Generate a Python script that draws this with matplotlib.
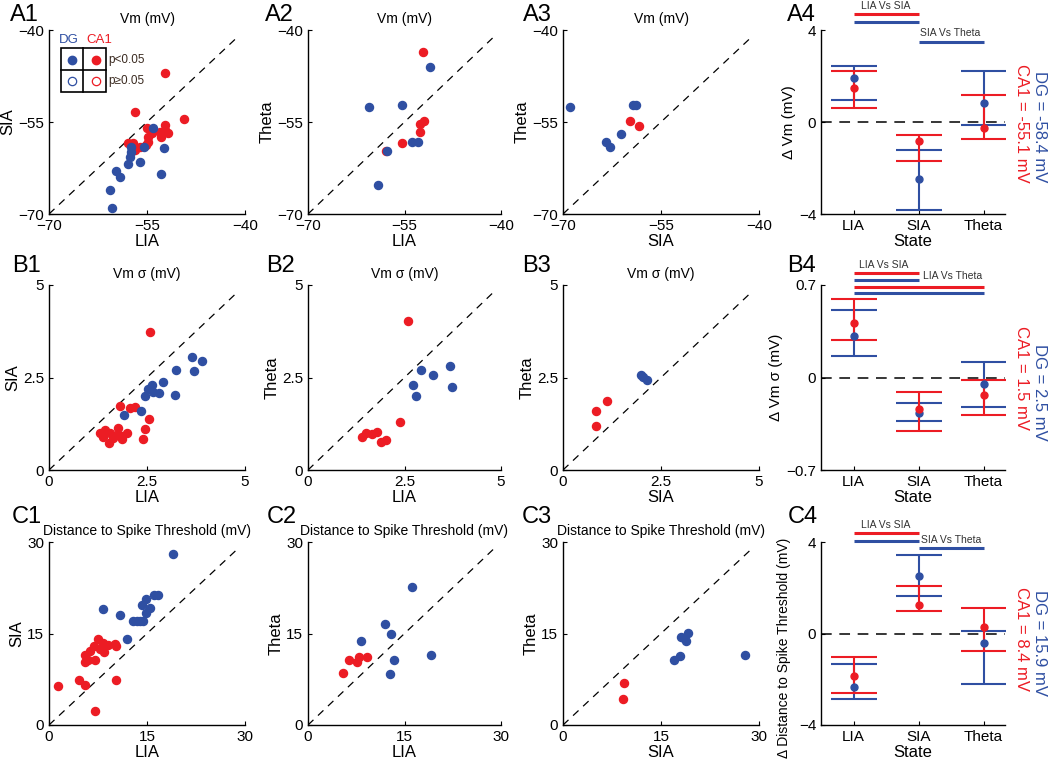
import matplotlib
matplotlib.use("Agg")
import matplotlib.pyplot as plt
from matplotlib.patches import Rectangle
from matplotlib.lines import Line2D

plt.rcParams['font.family'] = ['Liberation Sans', 'DejaVu Sans']

BLUE = '#2f4fa2'
RED = '#ec1c24'

# ---------------- data: Vm (mV) ----------------
a1_ca1_x = [-52.2, -56.8, -49.3, -55.0, -52.3, -52.2, -51.8, -52.8, -54.9, -54.3, -54.8, -55.1, -56.1, -56.9, -57.9, -57.2, -53.0]
a1_ca1_y = [-47.0, -53.4, -54.5, -55.9, -55.5, -56.3, -56.8, -57.4, -57.4, -56.8, -58.2, -58.8, -59.0, -59.6, -58.5, -58.4, -56.6]
a1_dg_x = [-54.1, -55.5, -52.4, -56.0, -57.4, -57.6, -57.9, -59.7, -59.2, -52.9, -60.6, -60.4, -57.5]
a1_dg_y = [-55.9, -59.1, -59.3, -61.6, -59.0, -60.7, -61.9, -63.0, -64.0, -63.5, -66.1, -69.1, -59.9]

a2_ca1_x = [-52.1, -52.6, -52.0, -52.6, -55.4, -57.8]
a2_ca1_y = [-43.6, -55.4, -54.8, -56.7, -58.5, -59.7]
a2_dg_x = [-51.0, -60.5, -55.4, -53.8, -52.9, -57.7, -59.1]
a2_dg_y = [-46.1, -52.6, -52.3, -58.3, -58.3, -59.7, -65.3]

a3_ca1_x = [-59.7, -58.4]
a3_ca1_y = [-54.8, -55.7]
a3_dg_x = [-69.0, -59.3, -58.9, -61.1, -63.4, -62.8]
a3_dg_y = [-52.6, -52.3, -52.3, -57.0, -58.2, -59.0]

# ---------------- data: Vm sigma (mV) ----------------
b1_ca1_x = [2.57, 1.81, 2.06, 2.19, 2.56, 2.46, 2.39, 1.42, 1.55, 1.76, 1.38, 1.64, 1.85, 1.98, 1.53, 1.87, 1.29, 1.74]
b1_ca1_y = [3.72, 1.73, 1.68, 1.71, 1.37, 1.12, 0.83, 1.08, 1.01, 1.13, 0.90, 0.86, 0.92, 0.99, 0.74, 0.83, 0.99, 0.95]
b1_dg_x = [3.64, 3.90, 3.71, 3.24, 3.21, 2.91, 2.63, 2.53, 2.44, 2.66, 2.80, 1.91, 2.35]
b1_dg_y = [3.05, 2.94, 2.68, 2.70, 2.02, 2.39, 2.30, 2.18, 2.00, 2.12, 2.09, 1.50, 1.60]

b2_ca1_x = [2.59, 2.38, 1.41, 1.49, 1.65, 1.80, 1.89, 2.01]
b2_ca1_y = [4.04, 1.31, 0.90, 0.99, 0.97, 1.03, 0.75, 0.81]
b2_dg_x = [2.71, 2.94, 3.25, 3.68, 3.74, 2.81]
b2_dg_y = [2.30, 2.69, 2.57, 2.81, 2.25, 2.01]

b3_ca1_x = [0.83, 0.83, 1.12]
b3_ca1_y = [1.60, 1.19, 1.86]
b3_dg_x = [2.00, 2.05, 2.14]
b3_dg_y = [2.56, 2.52, 2.43]

# ---------------- data: distance to spike threshold (mV) ----------------
c1_ca1_x = [1.4, 4.6, 5.5, 7.1, 10.3, 10.3, 10.1, 7.5, 8.3, 9.0, 6.9, 6.3, 5.5, 5.5, 6.0, 7.0, 7.8, 8.4]
c1_ca1_y = [6.4, 7.4, 6.5, 2.35, 7.3, 13.0, 13.3, 14.1, 13.5, 13.1, 13.0, 12.2, 11.5, 10.4, 10.7, 10.7, 12.4, 11.9]
c1_dg_x = [19.0, 8.3, 10.9, 11.9, 12.8, 13.4, 13.9, 14.2, 14.9, 15.4, 14.8, 16.0, 16.7, 14.4]
c1_dg_y = [28.0, 19.05, 18.1, 14.1, 17.1, 17.1, 17.1, 19.7, 20.7, 19.2, 18.3, 21.3, 21.3, 17.1]

c2_ca1_x = [5.5, 6.4, 7.6, 8.0, 9.1]
c2_ca1_y = [8.5, 10.7, 10.3, 11.2, 11.1]
c2_dg_x = [16.15, 11.9, 12.9, 8.3, 13.4, 12.8, 19.1]
c2_dg_y = [22.7, 16.5, 15.0, 13.85, 10.6, 8.3, 11.5]

c3_ca1_x = [9.4, 9.2]
c3_ca1_y = [6.9, 4.3]
c3_dg_x = [19.1, 18.1, 18.5, 18.8, 17.9, 17.0, 27.8]
c3_dg_y = [15.1, 14.45, 14.3, 13.8, 11.3, 10.6, 11.5]

# ---------------- data: state changes (mean, upper, lower) ----------------
states = ['LIA', 'SIA', 'Theta']

a4_dg_mean = [1.91, -2.49, 0.81]
a4_dg_hi = [2.45, -1.23, 2.20]
a4_dg_lo = [0.94, -3.84, -0.13]
a4_ca1_mean = [1.46, -0.81, -0.25]
a4_ca1_hi = [2.20, -0.58, 1.16]
a4_ca1_lo = [0.61, -1.68, -0.72]

b4_dg_mean = [0.311, -0.268, -0.051]
b4_dg_hi = [0.510, -0.195, 0.121]
b4_dg_lo = [0.164, -0.326, -0.222]
b4_ca1_mean = [0.412, -0.240, -0.136]
b4_ca1_hi = [0.596, -0.106, -0.020]
b4_ca1_lo = [0.286, -0.404, -0.281]

c4_dg_mean = [-2.32, 2.50, -0.42]
c4_dg_hi = [-1.35, 3.42, 0.13]
c4_dg_lo = [-2.88, 1.62, -2.21]
c4_ca1_mean = [-1.86, 1.23, 0.28]
c4_ca1_hi = [-1.02, 2.06, 1.11]
c4_ca1_lo = [-2.60, 0.99, -0.75]

# significance bars: (color, from state, to state, level)
a4_sig = [('r', 1, 2, 4.68), ('b', 1, 2, 4.35), ('b', 2, 3, 3.48)]
a4_sig_text = [('LIA Vs SIA', 1.5, 5.06), ('SIA Vs Theta', 2.49, 3.88)]
b4_sig = [('r', 1, 2, 0.791), ('b', 1, 2, 0.738), ('r', 1, 3, 0.687), ('b', 1, 3, 0.636)]
b4_sig_text = [('LIA Vs SIA', 1.47, 0.854), ('LIA Vs Theta', 2.52, 0.765)]
c4_sig = [('r', 1, 2, 4.38), ('b', 1, 2, 4.06), ('b', 2, 3, 3.74)]
c4_sig_text = [('LIA Vs SIA', 1.5, 4.73), ('SIA Vs Theta', 2.5, 4.09)]

# ---------------- layout ----------------
W, H = 1050, 763
fig = plt.figure(figsize=(10.5, 7.63), dpi=100)

col_left = [49, 308, 563, 821]
col_width = [196, 193, 196, 184]
row_top = [30, 285, 542]
row_height = [184, 185, 183]


def make_ax(r, c):
    l, w = col_left[c], col_width[c]
    t, h = row_top[r], row_height[r]
    ax = fig.add_axes([l / W, 1 - (t + h) / H, w / W, h / H])
    ax.spines['top'].set_visible(False)
    ax.spines['right'].set_visible(False)
    ax.spines['left'].set_linewidth(1.0)
    ax.spines['bottom'].set_linewidth(1.0)
    ax.tick_params(direction='in', length=3, width=0.8, labelsize=11)
    ax.patch.set_visible(False)
    return ax


def fmt(ticks):
    return [f'{t:g}'.replace('-', '\u2212') for t in ticks]


def scatter_panel(ax, ca1_x, ca1_y, dg_x, dg_y, lim, ticks, xlabel, ylabel, title):
    lo, hi = lim
    end = lo + 0.96 * (hi - lo)
    ax.plot([lo, end], [lo, end], color='k', lw=0.9, dashes=(6, 5))
    ax.plot(ca1_x, ca1_y, 'o', color=RED, ms=5.8, mec=RED)
    ax.plot(dg_x, dg_y, 'o', color=BLUE, ms=5.8, mec=BLUE)
    ax.set_xlim(lo, hi)
    ax.set_ylim(lo, hi)
    ax.set_xticks(ticks)
    ax.set_yticks(ticks)
    ax.set_xticklabels(fmt(ticks))
    ax.set_yticklabels(fmt(ticks))
    ax.set_xlabel(xlabel, fontsize=12, labelpad=1)
    ax.set_ylabel(ylabel, fontsize=12, labelpad=2)
    ax.set_title(title, fontsize=10, pad=5)


def state_panel(ax, dg, ca1, ylim, yticks, ylabel, ylsize, sig, sig_text, dg_txt, ca1_txt, txt_y):
    x = [1, 2, 3]
    ax.axhline(0, color='k', lw=1.1, dashes=(7, 5))
    for (mean, hi, lo), col in ((dg, BLUE), (ca1, RED)):
        yerr = [[m - l for m, l in zip(mean, lo)], [h - m for m, h in zip(mean, hi)]]
        ax.errorbar(x, mean, yerr=yerr, fmt='o', color=col, ms=5, lw=1.5,
                    capsize=16.5, capthick=1.5, zorder=3)
    for c, a, b, y in sig:
        ax.plot([a, b], [y, y], color=RED if c == 'r' else BLUE, lw=2.2,
                clip_on=False, solid_capstyle='butt')
    for s, xx, yy in sig_text:
        ax.text(xx, yy, s, fontsize=7.5, color='#333333', ha='center', va='center')
    ax.set_xlim(0.5, 3.33)
    ax.set_ylim(*ylim)
    ax.set_xticks(x)
    ax.set_xticklabels(states, fontsize=11)
    ax.set_yticks(yticks)
    ax.set_yticklabels(fmt(yticks))
    ax.set_xlabel('State', fontsize=12, labelpad=1)
    ax.set_ylabel(ylabel, fontsize=ylsize, labelpad=2)
    ax.text(1.19, txt_y[0], dg_txt, color=BLUE, fontsize=12, rotation=-90,
            ha='center', va='center', transform=ax.transAxes)
    ax.text(1.087, txt_y[1], ca1_txt, color=RED, fontsize=12, rotation=-90,
            ha='center', va='center', transform=ax.transAxes)


# row A
ax = make_ax(0, 0)
scatter_panel(ax, a1_ca1_x, a1_ca1_y, a1_dg_x, a1_dg_y, (-70, -40), [-70, -55, -40], 'LIA', 'SIA', 'Vm (mV)')
# legend box in A1
tr = ax.transAxes
ax.add_patch(Rectangle((0.061, 0.663), 0.23, 0.239, fill=False, ec='k', lw=1.2,
                       transform=tr, clip_on=False))
ax.add_line(Line2D([0.173, 0.173], [0.663, 0.902], color='k', lw=1.2, transform=tr))
ax.add_line(Line2D([0.061, 0.291], [0.783, 0.783], color='k', lw=1.2, transform=tr))
ax.plot([0.117], [0.837], 'o', color=BLUE, ms=6, transform=tr)
ax.plot([0.24], [0.837], 'o', color=RED, ms=6, transform=tr)
ax.plot([0.117], [0.723], 'o', mfc='none', mec=BLUE, ms=6, mew=0.9, transform=tr)
ax.plot([0.24], [0.723], 'o', mfc='none', mec=RED, ms=6, mew=0.9, transform=tr)
ax.text(0.102, 0.946, 'DG', color=BLUE, fontsize=9.5, ha='center', va='center', transform=tr)
ax.text(0.255, 0.946, 'CA1', color=RED, fontsize=9.5, ha='center', va='center', transform=tr)
ax.text(0.305, 0.837, 'p<0.05', color='#3a2a20', fontsize=8.5, ha='left', va='center', transform=tr)
ax.text(0.305, 0.723, 'p\u22650.05', color='#3a2a20', fontsize=8.5, ha='left', va='center', transform=tr)

ax = make_ax(0, 1)
scatter_panel(ax, a2_ca1_x, a2_ca1_y, a2_dg_x, a2_dg_y, (-70, -40), [-70, -55, -40], 'LIA', 'Theta', 'Vm (mV)')
ax = make_ax(0, 2)
scatter_panel(ax, a3_ca1_x, a3_ca1_y, a3_dg_x, a3_dg_y, (-70, -40), [-70, -55, -40], 'SIA', 'Theta', 'Vm (mV)')
ax = make_ax(0, 3)
state_panel(ax, (a4_dg_mean, a4_dg_hi, a4_dg_lo), (a4_ca1_mean, a4_ca1_hi, a4_ca1_lo),
            (-4, 4), [-4, 0, 4], '\u0394 Vm (mV)', 11, a4_sig, a4_sig_text,
            'DG = -58.4 mV', 'CA1 = -55.1 mV', (0.473, 0.495))

# row B
ax = make_ax(1, 0)
scatter_panel(ax, b1_ca1_x, b1_ca1_y, b1_dg_x, b1_dg_y, (0, 5), [0, 2.5, 5], 'LIA', 'SIA', 'Vm \u03c3 (mV)')
ax = make_ax(1, 1)
scatter_panel(ax, b2_ca1_x, b2_ca1_y, b2_dg_x, b2_dg_y, (0, 5), [0, 2.5, 5], 'LIA', 'Theta', 'Vm \u03c3 (mV)')
ax = make_ax(1, 2)
scatter_panel(ax, b3_ca1_x, b3_ca1_y, b3_dg_x, b3_dg_y, (0, 5), [0, 2.5, 5], 'SIA', 'Theta', 'Vm \u03c3 (mV)')
ax = make_ax(1, 3)
state_panel(ax, (b4_dg_mean, b4_dg_hi, b4_dg_lo), (b4_ca1_mean, b4_ca1_hi, b4_ca1_lo),
            (-0.7, 0.7), [-0.7, 0, 0.7], '\u0394 Vm \u03c3 (mV)', 11, b4_sig, b4_sig_text,
            'DG = 2.5 mV', 'CA1 = 1.5 mV', (0.42, 0.497))

# row C
title_c = 'Distance to Spike Threshold (mV)'
ax = make_ax(2, 0)
scatter_panel(ax, c1_ca1_x, c1_ca1_y, c1_dg_x, c1_dg_y, (0, 30), [0, 15, 30], 'LIA', 'SIA', title_c)
ax = make_ax(2, 1)
scatter_panel(ax, c2_ca1_x, c2_ca1_y, c2_dg_x, c2_dg_y, (0, 30), [0, 15, 30], 'LIA', 'Theta', title_c)
ax = make_ax(2, 2)
scatter_panel(ax, c3_ca1_x, c3_ca1_y, c3_dg_x, c3_dg_y, (0, 30), [0, 15, 30], 'SIA', 'Theta', title_c)
ax = make_ax(2, 3)
state_panel(ax, (c4_dg_mean, c4_dg_hi, c4_dg_lo), (c4_ca1_mean, c4_ca1_hi, c4_ca1_lo),
            (-4, 4), [-4, 0, 4], '\u0394 Distance to Spike Threshold (mV)', 10, c4_sig, c4_sig_text,
            'DG = 15.9 mV', 'CA1 = 8.4 mV', (0.448, 0.47))
# keep the long label clear of the panel letter above it
ax.yaxis.set_label_coords(-0.165, 0.42)

# panel letters
letters = [('A1', 10, 21), ('A2', 265, 21), ('A3', 523, 21), ('A4', 787, 21),
           ('B1', 12, 272), ('B2', 266, 272), ('B3', 522, 272), ('B4', 787, 272),
           ('C1', 12, 523), ('C2', 267, 523), ('C3', 522, 523), ('C4', 788, 523)]
for s, px, py in letters:
    fig.text(px / W, 1 - py / H, s, fontsize=17, ha='left', va='baseline')

fig.savefig('out.png', dpi=100)
